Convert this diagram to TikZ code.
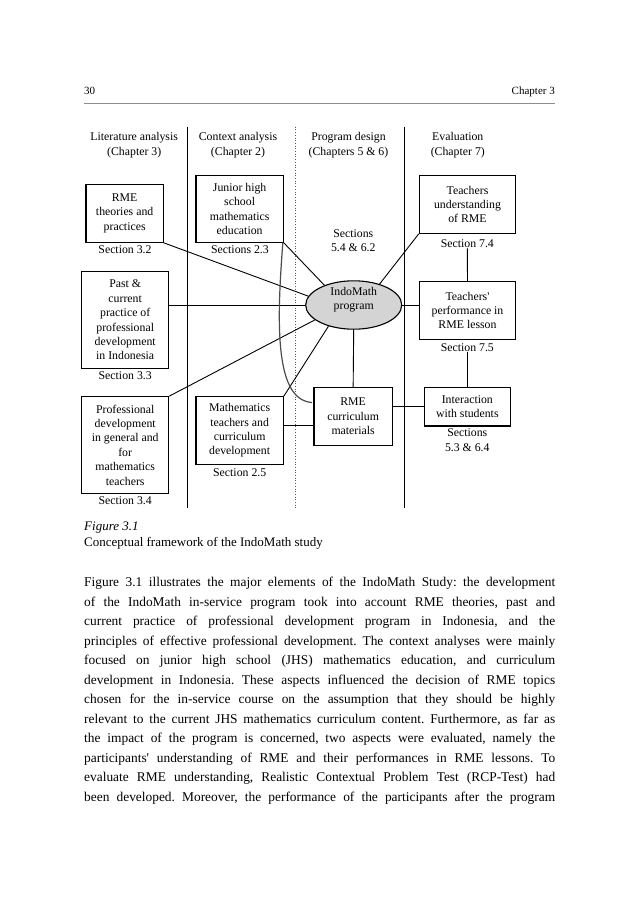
\documentclass[tikz,border=0pt]{standalone}
\usepackage{fontspec}
\setmainfont{Liberation Serif}
\usetikzlibrary{shapes.geometric}
\newcommand\figfont{\fontsize{11.8}{14.4}\selectfont}
\newcommand\hdfont{\fontsize{11.8}{15.6}\selectfont}
\newcommand\pagefont{\fontsize{11}{13}\selectfont}
\newcommand\bodyfont{\fontsize{13.4}{19.5}\selectfont}
\begin{document}
\begin{tikzpicture}[x=1pt,y=-1pt,
  box/.style={draw, line width=1.1pt, inner sep=0pt, align=center, font=\figfont},
  lbl/.style={inner sep=1pt, align=center, font=\figfont},
  colhead/.style={inner sep=0pt, align=center, font=\hdfont},
  conn/.style={line width=0.9pt},
  colline/.style={line width=0.9pt},
  dotline/.style={line width=0.7pt, dotted, black!65},
  curveline/.style={line width=1.2pt, black!70},
]
\fill[white] (0,0) rectangle (638,903);
\useasboundingbox (0,0) rectangle (638,903);

% page header
\node[anchor=base west, inner sep=0pt, font=\pagefont] (pg) at (84,94) {30};
\node[anchor=base east, inner sep=0pt, font=\pagefont] (chap) at (555,94) {Chapter 3};
\draw[line width=0.8pt, black!45] (84,103.3) -- (555,103.3);

% column headers
\node[colhead] (h1) at (134.2,145) {Literature analysis\\(Chapter 3)};
\node[colhead] (h2) at (238,145) {Context analysis\\(Chapter 2)};
\node[colhead] (h3) at (348.5,145) {Program design\\(Chapters 5 \& 6)};
\node[colhead] (h4) at (457.8,145) {Evaluation\\(Chapter 7)};

% column separators
\draw[colline] (187.3,126.7) -- (187.3,508);
\draw[dotline] (295.7,126.7) -- (295.7,508);
\draw[colline] (404.3,126.7) -- (404.3,508);

% boxes
\node[box, minimum width=77.3pt, minimum height=58pt] (rme) at (124.65,213.3) {RME\\theories and\\practices};
\node[lbl] (s32) at (125,250) {Section 3.2};
\node[box, minimum width=87.3pt, minimum height=66.6pt] (jhs) at (239.65,209) {Junior high\\school\\mathematics\\education};
\node[lbl] (s23) at (240,250) {Sections 2.3};
\node[box, minimum width=87pt, minimum height=96.6pt] (past) at (125.2,320) {Past \&\\current\\practice of\\professional\\development\\in Indonesia};
\node[lbl] (s33) at (125.2,375.7) {Section 3.3};
\node[box, minimum width=87pt, minimum height=96.6pt] (prof) at (125.2,445) {Professional\\development\\in general and\\for\\mathematics\\teachers};
\node[lbl] (s34) at (125.2,500.7) {Section 3.4};
\node[box, minimum width=87.3pt, minimum height=67.6pt] (mtc) at (239.65,430.5) {Mathematics\\teachers and\\curriculum\\development};
\node[lbl] (s25) at (239.7,472.3) {Section 2.5};

\node[draw, ellipse, line width=1.1pt, fill=black!17, inner sep=0pt, minimum width=96pt, minimum height=48.4pt] (ell) at (353.7,305) {};
\node[lbl] (ellt) at (353.7,299.5) {IndoMath\\program};
\node[lbl] (s54) at (353.3,240.5) {Sections\\5.4 \& 6.2};
\node[box, minimum width=78.3pt, minimum height=58pt] (rmec) at (353.15,416.3) {RME\\curriculum\\materials};

\node[box, minimum width=96.4pt, minimum height=57.6pt] (tu) at (467.5,204.5) {Teachers\\understanding\\of RME};
\node[lbl] (s74) at (467.3,243.3) {Section 7.4};
\node[box, minimum width=96.4pt, minimum height=57.6pt] (tp) at (467.5,310.5) {Teachers\textquotesingle\\performance in\\RME lesson};
\node[lbl] (s75) at (467.3,347.3) {Section 7.5};
\node[box, minimum width=86pt, minimum height=38.7pt] (int) at (467.3,406.65) {Interaction\\with students};
\node[lbl] (s53) at (467.3,440) {Sections\\5.3 \& 6.4};

% connectors
\draw[conn] (rme.south east) -- (ell.169);
\draw[conn] (jhs.south east) -- (ell.146.7);
\draw[conn] (ell.west -| past.east) -- (ell.west);
\draw[conn] (prof.north east) -- (ell.201);
\draw[conn] (mtc.north east) -- (ell.220.5);
\draw[conn] (tu.south west) -- (ell.39.3);
\draw[conn] (ell.east) -- (ell.east -| tp.west);
\draw[conn] (ell.south) -- (rmec.north);
\draw[conn] (mtc.east |- 0,425) -- (rmec.west |- 0,425);
\draw[conn] (int.west -| rmec.east) -- (int.west);
\draw[conn] (s74.south) -- (tp.north);
\draw[conn] (s75.south) -- (int.north);
\coordinate (cs) at ([xshift=-1pt]jhs.south east);
\coordinate (ce) at (312,402.5);
\draw[curveline] (cs) .. controls (276,330) and (276,400) .. (ce);

% caption
\node[anchor=base west, inner sep=0pt, font=\fontsize{13}{16}\selectfont\itshape] (fig) at (84,530.5) {Figure 3.1};
\node[anchor=base west, inner sep=0pt, font=\fontsize{13}{16}\selectfont] (cap) at (84,546.5) {Conceptual framework of the IndoMath study};

% body text
\node[anchor=base west, inner sep=0pt] (body) at (84,586.5) {\begin{minipage}[t]{471pt}\bodyfont\frenchspacing
\parindent=0pt \parfillskip=0pt \hyphenpenalty=10000 \exhyphenpenalty=10000 \tolerance=10000
Figure 3.1 illustrates the major elements of the IndoMath Study: the development\linebreak
of the IndoMath in-service program took into account RME theories, past and\linebreak
current practice of professional development program in Indonesia, and the\linebreak
principles of effective professional development. The context analyses were mainly\linebreak
focused on junior high school (JHS) mathematics education, and curriculum\linebreak
development in Indonesia. These aspects influenced the decision of RME topics\linebreak
chosen for the in-service course on the assumption that they should be highly\linebreak
relevant to the current JHS mathematics curriculum content. Furthermore, as far as\linebreak
the impact of the program is concerned, two aspects were evaluated, namely the\linebreak
participants\textquotesingle{} understanding of RME and their performances in RME lessons. To\linebreak
evaluate RME understanding, Realistic Contextual Problem Test (RCP-Test) had\linebreak
been developed. Moreover, the performance of the participants after the program
\end{minipage}};
\end{tikzpicture}
\end{document}
